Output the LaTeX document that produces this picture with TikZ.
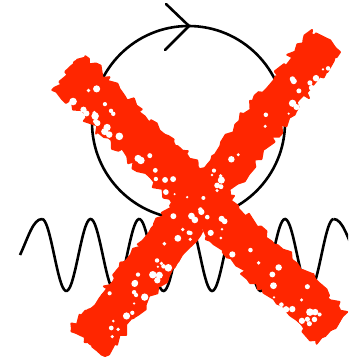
\documentclass[tikz,border=0pt]{standalone}
\usetikzlibrary{decorations.pathmorphing}
\definecolor{crossred}{RGB}{255,38,0}
\begin{document}
\begin{tikzpicture}[x=0.5pt,y=-0.5pt,
    line/.style={black,line width=1.3pt},
    smear/.style={fill=crossred,draw=crossred,line width=1pt,line join=round,decorate,
        decoration={random steps,segment length=2.5pt,amplitude=2pt}},
    blob/.style={fill=crossred,draw=crossred,line width=1.5pt,line join=round,decorate,
        decoration={random steps,segment length=6pt,amplitude=3pt}}
]
    \useasboundingbox (0,0) rectangle (348,362);
    \clip (0,0) rectangle (348,362);
    \pgfmathsetseed{42}
    % loop with arrow
    \draw[line] (188.5,122.5) circle[radius=96.5];
    \draw[line,line cap=round] (166,4) -- (189,26) -- (165,50);
    % wave
    \draw[line] (20,255) .. controls (28,238) and (33,219) .. (42,219);
    \draw[line] plot[domain=42:333.6,samples=200,smooth] (\x,{255-36*cos(7.40741*(\x-42))});
    \draw[line] (333.6,219) .. controls (342.6,219) and (347.6,238) .. (355.6,255);
    % the cross
    \filldraw[smear] (54.6,87.7) -- (85.4,56.3) -- (216.4,184.3) -- (347.4,312.3)
        -- (316.6,343.7) -- (185.6,215.7) -- cycle;
    \filldraw[blob] (60,82) -- (82,60) -- (212,188) -- (342,316) -- (320,338) -- (190,210) -- cycle;
    \filldraw[smear] (312,30) -- (340,52) -- (222.5,204) -- (105,356) -- (72,329) -- (192,179.5) -- cycle;
    \filldraw[blob] (316,34) -- (336,50) -- (218.5,200) -- (101,350) -- (77,331) -- (196.5,182.5) -- cycle;
    % speckles
    \foreach \i in {1,...,55}{
        \pgfmathsetmacro{\pos}{0.05+0.9*rnd}
        \pgfmathsetmacro{\side}{19*(1-1.8*rnd*rnd)}
        \pgfmathsetmacro{\rad}{1.2+2.6*rnd}
        \fill[white] ({70+262*\pos-0.699*\side},{72+256*\pos+0.715*\side}) circle[radius=\rad];
    }
    \foreach \i in {1,...,55}{
        \pgfmathsetmacro{\pos}{0.05+0.9*rnd}
        \pgfmathsetmacro{\side}{19*(1-1.8*rnd*rnd)}
        \pgfmathsetmacro{\rad}{1.2+2.6*rnd}
        \fill[white] ({326-240*\pos+0.781*\side},{41+300*\pos+0.625*\side}) circle[radius=\rad];
    }
\end{tikzpicture}
\end{document}
